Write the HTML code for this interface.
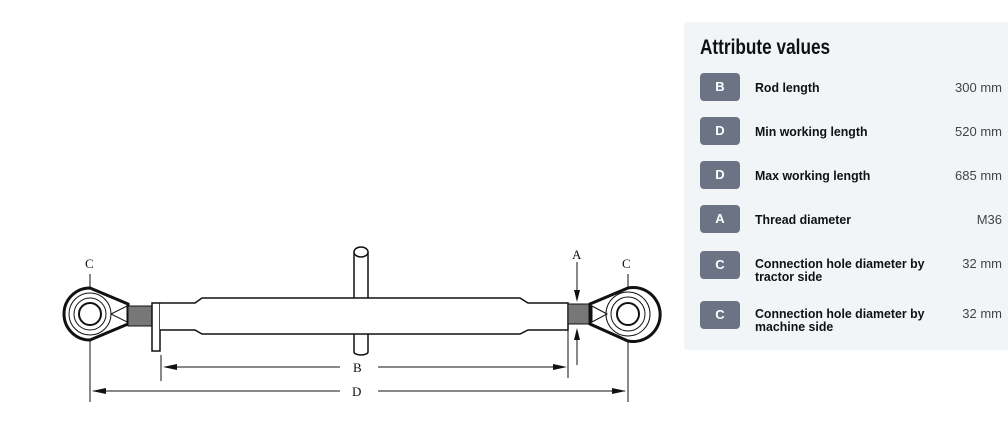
<!DOCTYPE html>
<html><head><meta charset="utf-8"><style>
body{margin:0;width:1008px;height:437px;background:#fff;position:relative;overflow:hidden;font-family:"Liberation Sans",sans-serif;}
.panel{position:absolute;left:684px;top:22px;width:340px;height:328px;background:#f2f5f7;border-radius:4px;}
.title{position:absolute;left:700px;top:36px;font-size:21px;font-weight:bold;color:#111;transform:scaleX(0.82);transform-origin:left;}
.badge{position:absolute;left:700px;width:40px;height:28px;border-radius:4px;background:#6b7385;color:#fff;font-weight:bold;font-size:13px;text-align:center;line-height:28px;}
.lab{position:absolute;left:755px;font-size:13px;font-weight:bold;color:#111;line-height:13px;transform:scaleX(0.95);transform-origin:left;width:200px;}
.val{position:absolute;right:6px;font-size:13px;color:#444;}
</style></head><body>
<div class="panel"></div>
<div class="title">Attribute values</div>
<div class="badge" style="top:73px">B</div><div class="lab" style="top:81px">Rod length</div><div class="val" style="top:80px">300 mm</div>
<div class="badge" style="top:117px">D</div><div class="lab" style="top:125px">Min working length</div><div class="val" style="top:124px">520 mm</div>
<div class="badge" style="top:161px">D</div><div class="lab" style="top:169px">Max working length</div><div class="val" style="top:168px">685 mm</div>
<div class="badge" style="top:205px">A</div><div class="lab" style="top:213px">Thread diameter</div><div class="val" style="top:212px">M36</div>
<div class="badge" style="top:251px">C</div><div class="lab" style="top:257px">Connection hole diameter by<br>tractor side</div><div class="val" style="top:256px">32 mm</div>
<div class="badge" style="top:301px">C</div><div class="lab" style="top:307px">Connection hole diameter by<br>machine side</div><div class="val" style="top:306px">32 mm</div>

<svg width="684" height="437" style="position:absolute;left:0;top:0" font-family="Liberation Serif,serif" font-size="13">
<g stroke="#111" fill="none" stroke-width="1.5">
<!-- left eye -->
<path d="M90 288 A26 26 0 1 0 90 340 L128 324 L128 304 Z" stroke-width="3" fill="#fff"/>
<circle cx="90" cy="314" r="21" stroke-width="1"/>
<circle cx="90" cy="314" r="16" stroke-width="1"/>
<circle cx="90" cy="314" r="11" stroke-width="2"/>
<path d="M111 314 L127 306 L127 322 Z" stroke-width="1"/>
<rect x="128" y="306" width="24" height="20" fill="#777" stroke-width="1"/>
<!-- handle -->
<path d="M354 252 L354 352 A7 3 0 0 0 368 352 L368 252" fill="#fff"/>
<ellipse cx="361" cy="252" rx="7" ry="5" fill="#fff"/>
<!-- flange -->
<rect x="152" y="303" width="8" height="48" fill="#fff"/>
<!-- tube -->
<path d="M160 303 L195 303 L202 298 L520 298 L528 303 L568 303 L568 330 L528 330 L520 334 L202 334 L195 330 L160 330" fill="#fff"/>
<!-- right thread & eye -->
<rect x="568" y="304" width="22" height="20" fill="#777" stroke-width="1"/>
<path d="M628 288 A27 27 0 1 1 628 341 L590 324 L590 304 Z" stroke-width="3" fill="#fff"/>
<circle cx="628" cy="314" r="22" stroke-width="1"/>
<circle cx="628" cy="314" r="17" stroke-width="1"/>
<circle cx="628" cy="314" r="11" stroke-width="2"/>
<path d="M607 314 L592 306 L592 322 Z" stroke-width="1"/>
<!-- dims -->
<line x1="90" y1="274" x2="90" y2="288" stroke-width="1"/>
<line x1="90" y1="340" x2="90" y2="402" stroke-width="1"/>
<line x1="628" y1="274" x2="628" y2="288" stroke-width="1"/>
<line x1="628" y1="341" x2="628" y2="402" stroke-width="1"/>
<line x1="161" y1="355" x2="161" y2="381" stroke-width="1"/>
<line x1="568" y1="330" x2="568" y2="378" stroke-width="1"/>
<line x1="165" y1="367" x2="340" y2="367" stroke-width="1"/>
<line x1="378" y1="367" x2="565" y2="367" stroke-width="1"/>
<line x1="93" y1="391" x2="340" y2="391" stroke-width="1"/>
<line x1="378" y1="391" x2="625" y2="391" stroke-width="1"/>
<line x1="577" y1="262" x2="577" y2="300" stroke-width="1"/>
<line x1="577" y1="330" x2="577" y2="365" stroke-width="1"/>
</g>
<g fill="#111">
<path d="M163 367 l14 -3 v6z"/><path d="M567 367 l-14 -3 v6z"/>
<path d="M92 391 l14 -3 v6z"/><path d="M626 391 l-14 -3 v6z"/>
<path d="M577 302 l-3 -12 h6z"/><path d="M577 328 l-3 12 h6z"/>
<text x="85" y="268">C</text><text x="622" y="268">C</text><text x="572" y="259">A</text>
<text x="353" y="372">B</text><text x="352" y="396">D</text>
</g>
</svg>
</body></html>
